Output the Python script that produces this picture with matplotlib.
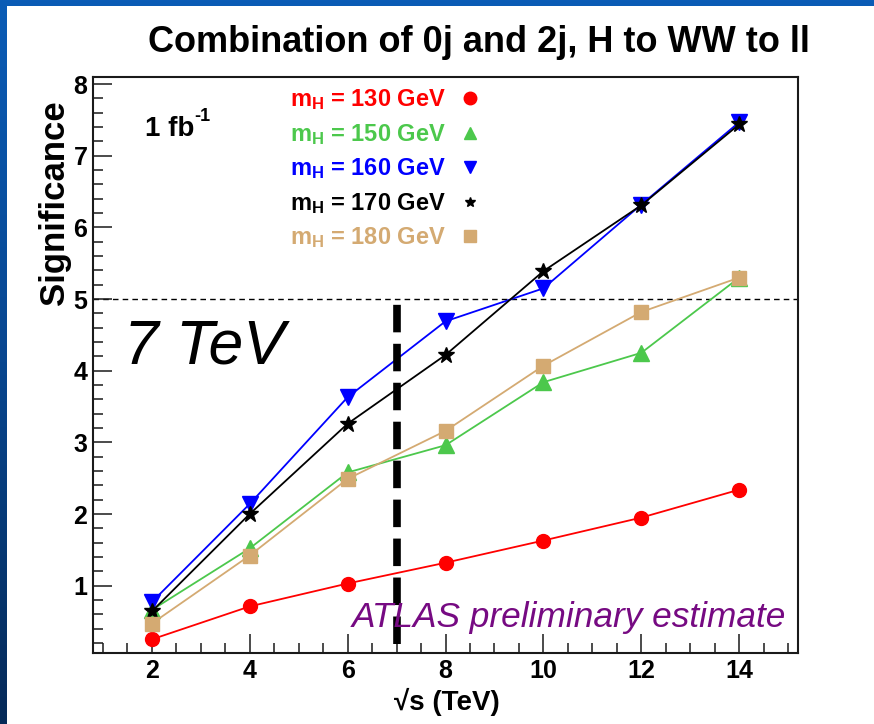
import numpy as np
import matplotlib
matplotlib.use("Agg")
import matplotlib.pyplot as plt
from matplotlib.patches import Rectangle
from matplotlib.lines import Line2D
from matplotlib.ticker import MultipleLocator, FixedLocator
from matplotlib.colors import LinearSegmentedColormap

# ---- data -------------------------------------------------------------
sqrt_s = [2, 4, 6, 8, 10, 12, 14]           # centre-of-mass energy (TeV)
x_ticks = [2, 4, 6, 8, 10, 12, 14]
y_ticks = [1, 2, 3, 4, 5, 6, 7, 8]

masses = [130, 150, 160, 170, 180]           # Higgs mass hypotheses (GeV)
sig_130 = [0.25, 0.71, 1.03, 1.32, 1.63, 1.95, 2.34]
sig_150 = [0.66, 1.52, 2.58, 2.96, 3.84, 4.25, 5.30]
sig_160 = [0.77, 2.14, 3.63, 4.69, 5.15, 6.32, 7.47]
sig_170 = [0.64, 2.00, 3.26, 4.22, 5.39, 6.31, 7.44]
sig_180 = [0.47, 1.42, 2.49, 3.16, 4.07, 4.82, 5.30]

discovery_level = 5.0
lhc_energy = 7.0
lhc_band = [0.18, 4.95]

# ---- styles -----------------------------------------------------------
colors = ["#ff0000", "#4cc84c", "#0000ff", "#000000", "#d4aa72"]
markers = ["o", "^", "v", "*", "s"]
msizes = [10, 11, 11, 12, 10]
leg_msizes = [9, 9, 9, 7, 8]
series = [sig_130, sig_150, sig_160, sig_170, sig_180]

plt.rcParams["font.family"] = ["Liberation Sans", "DejaVu Sans"]
plt.rcParams["mathtext.fontset"] = "custom"
plt.rcParams["mathtext.rm"] = "Liberation Sans"
plt.rcParams["mathtext.bf"] = "Liberation Sans:bold"
plt.rcParams["mathtext.it"] = "Liberation Sans:italic"

W, H = 874, 724
fig = plt.figure(figsize=(W / 100, H / 100), dpi=100)

# slide background: blue gradient with a white panel on top
bg = fig.add_axes([0, 0, 1, 1], zorder=-10)
grad = np.linspace(0, 1, 256)[:, None]
cmap = LinearSegmentedColormap.from_list("slide", ["#0b5cb6", "#08468f", "#052a58"])
bg.imshow(grad, aspect="auto", cmap=cmap, extent=[0, 1, 0, 1])
bg.add_patch(Rectangle((7 / W, 0), 1, (H - 6) / H, transform=bg.transAxes,
                       facecolor="white", edgecolor="none", zorder=3))
bg.set_xlim(0, 1)
bg.set_ylim(0, 1)
bg.axis("off")

def fx(px):
    return px / W

def fy(py):
    return 1 - py / H

ax = fig.add_axes([fx(93), fy(653), (798 - 93) / W, (653 - 77) / H])
ax.set_facecolor("none")
ax.set_xlim(0.8, 15.2)
ax.set_ylim(0.06, 8.1)

ax.xaxis.set_major_locator(FixedLocator(x_ticks))
ax.xaxis.set_minor_locator(MultipleLocator(0.5))
ax.yaxis.set_major_locator(FixedLocator(y_ticks))
ax.yaxis.set_minor_locator(MultipleLocator(0.2))
ax.tick_params(which="both", direction="in", top=False, right=False,
               width=1.1, color="#1a1a1a")
ax.tick_params(which="major", length=14)
ax.tick_params(which="minor", length=7)
ax.tick_params(axis="x", which="major", pad=4, labelsize=18)
ax.tick_params(axis="y", which="major", pad=4, labelsize=18)
for lab in ax.get_xticklabels() + ax.get_yticklabels():
    lab.set_fontweight("bold")
for sp in ax.spines.values():
    sp.set_linewidth(1.5)
    sp.set_color("#1a1a1a")

# 5 sigma reference line
ax.axhline(discovery_level, color="black", lw=1.0, ls=(0, (4, 3)), zorder=1)

# significance curves
for vals, c, m, ms in zip(series, colors, markers, msizes):
    ax.plot(sqrt_s, vals, color=c, lw=1.3, marker=m, markersize=ms,
            markerfacecolor=c, markeredgecolor=c, zorder=3)

# 7 TeV operating point
ax.plot([lhc_energy, lhc_energy], lhc_band, color="black", lw=5.5,
        ls=(0, (3.6, 1.5)), dash_capstyle="butt", zorder=4)

# ---- labels -----------------------------------------------------------
fig.text(fx(479), fy(42), "Combination of 0j and 2j, H to WW to ll",
         ha="center", va="center", fontsize=26, fontweight="bold")
fig.text(fx(55), fy(203), "Significance", rotation=90, ha="center",
         va="center", fontsize=25, fontweight="bold")
fig.text(fx(447), fy(710), "\u221As (TeV)", ha="center", va="baseline",
         fontsize=20, fontweight="bold")

fig.text(fx(145), fy(136), "1 fb", ha="left", va="baseline",
         fontsize=20, fontweight="bold")
fig.text(fx(194), fy(121), "-1", ha="left", va="baseline",
         fontsize=13, fontweight="bold")

fig.text(fx(124), fy(363), "7 TeV", ha="left", va="baseline",
         fontsize=45, style="italic")
fig.text(fx(352), fy(627), "ATLAS preliminary estimate", ha="left",
         va="baseline", fontsize=25.4, style="italic", color="#760a82")

# legend block: coloured labels with the marker to their right
rows = [98, 133, 167, 202, 236]
for mass, c, m, ms, row in zip(masses, colors, markers, leg_msizes, rows):
    fig.text(fx(290), fy(row + 8.5), r"m$_{\mathbf{H}}$ = %d GeV" % mass,
             ha="left", va="baseline", fontsize=17, fontweight="bold", color=c)
    fig.add_artist(Line2D([fx(470)], [fy(row)], marker=m, markersize=ms,
                          color=c, markeredgecolor=c, linestyle="none",
                          transform=fig.transFigure))

fig.savefig("out.png", dpi=100)
